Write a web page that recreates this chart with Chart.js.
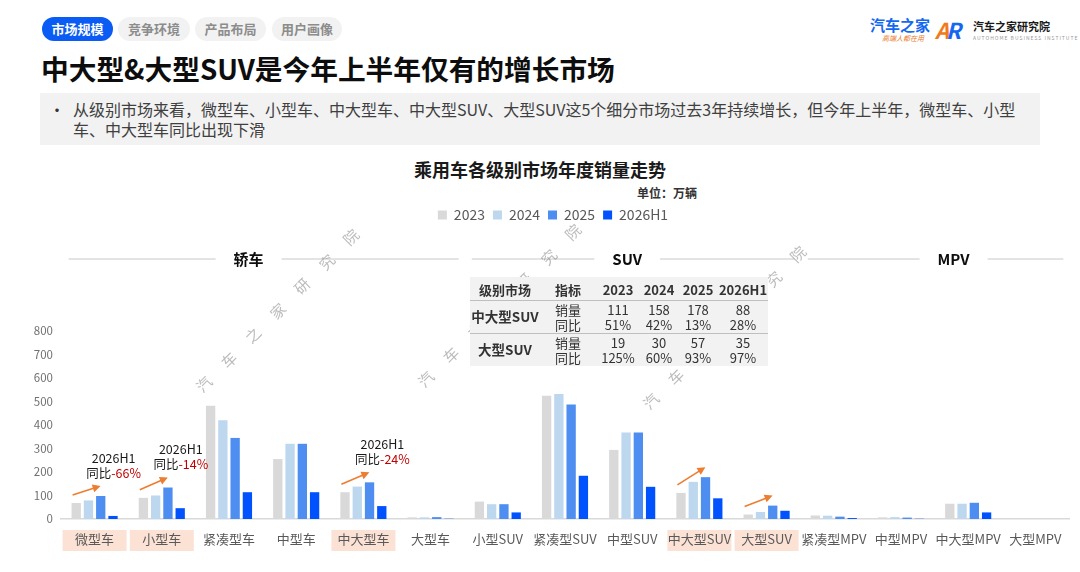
<!DOCTYPE html>
<html>
<head>
<meta charset="utf-8">
<script src="https://cdn.jsdelivr.net/npm/chart.js@4.4.1/dist/chart.umd.min.js"></script>
<style>
  body { margin: 0; width: 1080px; height: 572px; background: #fff; position: relative; overflow: hidden;
         font-family: "Noto Sans CJK SC", "Noto Sans", sans-serif; color: #262626; }
  .tab { position: absolute; top: 17px; height: 24px; line-height: 24px; border-radius: 12px; font-size: 13px;
         font-weight: bold; text-align: center; background: #f2f2f2; color: #8c8c8c; }
  .tab.on { background: #0a5cf5; color: #fff; }
  #title { position: absolute; left: 41px; top: 49px; font-size: 27.7px; font-weight: bold; color: #0d0d0d; line-height: 38px; }
  #note { position: absolute; left: 40px; top: 93px; width: 1000px; height: 52px; background: #f2f2f2; }
  #note .dot { position: absolute; left: 9px; top: 6px; font-size: 16px; line-height: 20px; color: #333; }
  #note .txt { position: absolute; left: 33px; top: 6px; font-size: 16px; line-height: 20px; color: #404040; white-space: nowrap; }
  #ctitle { position: absolute; left: 0; width: 1080px; top: 156px; text-align: center; font-size: 18px; font-weight: bold; color: #1a1a1a; }
  #unit { position: absolute; right: 383px; top: 184px; font-size: 12px; font-weight: bold; color: #333; }
  #wrap { position: absolute; left: 0; top: 200px; width: 1080px; height: 372px; z-index: 1; }
  .wm { position: absolute; font-size: 15px; color: rgba(120,120,120,0.5); transform: rotate(-45deg); z-index: 2; }
  #tbl { position: absolute; left: 470px; top: 277px; width: 298px; height: 89px; background: #f2f2f2; z-index: 3; font-size: 13px; color: #333; }
  #tbl div { position: absolute; text-align: center; line-height: 15px; }
  .logo1 { position: absolute; left: 870px; top: 14px; font-size: 15px; font-weight: bold; color: #1467f0; }
  .logo1s { position: absolute; left: 882px; top: 33px; font-size: 7px; color: #e87722; font-style: italic; }
  .logo2 { position: absolute; left: 935px; top: 13px; font-size: 22px; font-weight: bold; font-style: italic; letter-spacing: -3px; }
  .logo3 { position: absolute; left: 973px; top: 18px; font-size: 11px; font-weight: bold; color: #1a1a1a; }
  .logo3s { position: absolute; left: 973px; top: 34px; font-size: 5px; color: #999; letter-spacing: 1px; }
</style>
</head>
<body>
<div class="tab on" style="left:42px;width:71px;">市场规模</div>
<div class="tab" style="left:118px;width:72px;">竞争环境</div>
<div class="tab" style="left:195px;width:71px;">产品布局</div>
<div class="tab" style="left:272px;width:70px;">用户画像</div>
<div class="logo1">汽车之家</div>
<div class="logo1s">高端人都在用</div>
<div class="logo2"><span style="color:#f07a1c">A</span><span style="color:#1467f0">R</span></div>
<div class="logo3">汽车之家研究院</div>
<div class="logo3s">AUTOHOME BUSINESS INSTITUTE</div>
<div id="title">中大型&amp;大型SUV是今年上半年仅有的增长市场</div>
<div id="note"><span class="dot">•</span><span class="txt">从级别市场来看，微型车、小型车、中大型车、中大型SUV、大型SUV这5个细分市场过去3年持续增长，但今年上半年，微型车、小型<br>车、中大型车同比出现下滑</span></div>
<div id="ctitle">乘用车各级别市场年度销量走势</div>
<div id="unit">单位：万辆</div>
<div id="wrap"><canvas id="grafico"></canvas></div>
<div id="tbl"></div>

<script>
// 数据
const categorias = ['微型车', '小型车', '紧凑型车', '中型车', '中大型车', '大型车',
  '小型SUV', '紧凑型SUV', '中型SUV', '中大型SUV', '大型SUV',
  '紧凑型MPV', '中型MPV', '中大型MPV', '大型MPV'];
const anos = ['2023', '2024', '2025', '2026H1'];
const vendas2023 = [68, 90, 482, 255, 114, 7, 74, 524, 294, 111, 19, 15, 7, 65, 0];
const vendas2024 = [79, 100, 420, 320, 138, 7, 63, 532, 368, 158, 30, 14, 8, 65, 0];
const vendas2025 = [98, 134, 345, 320, 156, 8, 63, 487, 368, 178, 57, 10, 6, 69, 0];
const vendas2026H1 = [13, 46, 114, 114, 55, 1, 28, 184, 137, 88, 35, 4, 1, 28, 0];
const cores = ['#d9d9d9', '#bdd7ee', '#4d8ef0', '#0052ff'];

const destacados = ['微型车', '小型车', '中大型车', '中大型SUV', '大型SUV'];
const setas = ['微型车', '小型车', '中大型车', '中大型SUV', '大型SUV'];
const notaCategorias = ['微型车', '小型车', '中大型车'];
const notaYoy = ['-66%', '-14%', '-24%'];

const grupos = ['轿车', 'SUV', 'MPV'];
const grupoInicio = [0, 6, 11];
const grupoFim = [5, 10, 14];

const tabelaCabecalho = ['级别市场', '指标', '2023', '2024', '2025', '2026H1'];
const tabelaMercados = ['中大型SUV', '大型SUV'];
const tabelaVendas = [[111, 158, 178, 88], [19, 30, 57, 35]];
const tabelaYoy = [['51%', '42%', '13%', '28%'], ['125%', '60%', '93%', '97%']];

// tabela
const tbl = document.getElementById('tbl');
const colX = [0, 70, 126, 170, 208, 248, 298];
function celula(txt, c, top, h, bold, size) {
  const d = document.createElement('div');
  d.style.left = colX[c] + 'px';
  d.style.width = (colX[c + 1] - colX[c]) + 'px';
  d.style.top = top + 'px';
  d.style.height = h + 'px';
  if (bold) d.style.fontWeight = 'bold';
  if (size) d.style.fontSize = size + 'px';
  d.innerHTML = txt;
  tbl.appendChild(d);
}
tabelaCabecalho.forEach((t, c) => celula(t, c, 5, 15, true, 13));
const linhaTop = [25, 58];
tabelaMercados.forEach((m, r) => {
  celula(m, 0, linhaTop[r] + 7, 15, true, 13.5);
  celula('销量<br>同比', 1, linhaTop[r], 30);
  for (let k = 0; k < 4; k++) {
    celula(tabelaVendas[r][k] + '<br>' + tabelaYoy[r][k], k + 2, linhaTop[r], 30);
  }
});
[23, 56].forEach(y => {
  const l = document.createElement('div');
  l.style.cssText = 'left:0;width:298px;top:' + y + 'px;height:1px;background:#bfbfbf;';
  tbl.appendChild(l);
});

// marca d'agua
const wmTexto = '汽车之家研究院';
[[203, 383], [425, 378], [650, 400]].forEach(p => {
  for (let i = 0; i < wmTexto.length; i++) {
    const s = document.createElement('span');
    s.className = 'wm';
    s.textContent = wmTexto[i];
    s.style.left = (p[0] + i * 24.5 - 7) + 'px';
    s.style.top = (p[1] - i * 24.5 - 10) + 'px';
    document.body.appendChild(s);
  }
});

const deslocTexto = [-15, -6, 18];
const extras = {
  id: 'extras',
  beforeInit(chart) {
    const fit = chart.legend.fit;
    chart.legend.fit = function () {
      fit.bind(chart.legend)();
      this.height += 99;
    };
    const draw = chart.legend.draw;
    chart.legend.draw = function () {
      chart.ctx.save();
      chart.ctx.translate(16, 0);
      draw.bind(chart.legend)();
      chart.ctx.restore();
    };
  },
  beforeDraw(chart) {
    const ctx = chart.ctx;
    const x = chart.scales.x;
    const area = chart.chartArea;
    ctx.save();
    ctx.fillStyle = '#fbe2d5';
    destacados.forEach(c => {
      const cx = x.getPixelForValue(categorias.indexOf(c));
      ctx.fillRect(cx - 32, area.bottom + 11, 64, 21);
    });
    // grupos
    ctx.font = 'bold 15px "Noto Sans CJK SC"';
    ctx.textAlign = 'center';
    ctx.textBaseline = 'middle';
    const y = 59;
    grupos.forEach((g, i) => {
      const l = x.getPixelForValue(grupoInicio[i]) - 26;
      const r = x.getPixelForValue(grupoFim[i]) + 28;
      const m = (l + r) / 2 + deslocTexto[i];
      const w = ctx.measureText(g).width / 2 + 18;
      ctx.strokeStyle = '#c8c8c8';
      ctx.lineWidth = 1;
      ctx.beginPath();
      ctx.moveTo(l, y); ctx.lineTo(m - w, y);
      ctx.moveTo(m + w, y); ctx.lineTo(r, y);
      ctx.stroke();
      ctx.fillStyle = '#0d0d0d';
      ctx.fillText(g, m, y);
    });
    ctx.restore();
  },
  afterDatasetsDraw(chart) {
    const ctx = chart.ctx;
    const x = chart.scales.x;
    const yS = chart.scales.y;
    ctx.save();
    setas.forEach(c => {
      const i = categorias.indexOf(c);
      const cx = x.getPixelForValue(i);
      const x0 = cx - 22, y0 = yS.getPixelForValue(vendas2023[i]) - 8;
      const x1 = cx + 6, y1 = yS.getPixelForValue(vendas2025[i]) - 10;
      const ang = Math.atan2(y1 - y0, x1 - x0);
      ctx.strokeStyle = '#ed7d31';
      ctx.fillStyle = '#ed7d31';
      ctx.lineWidth = 1.6;
      ctx.beginPath();
      ctx.moveTo(x0, y0);
      ctx.lineTo(x1 - 5 * Math.cos(ang), y1 - 5 * Math.sin(ang));
      ctx.stroke();
      ctx.beginPath();
      ctx.moveTo(x1, y1);
      ctx.lineTo(x1 - 8 * Math.cos(ang) + 4 * Math.sin(ang), y1 - 8 * Math.sin(ang) - 4 * Math.cos(ang));
      ctx.lineTo(x1 - 8 * Math.cos(ang) - 4 * Math.sin(ang), y1 - 8 * Math.sin(ang) + 4 * Math.cos(ang));
      ctx.closePath();
      ctx.fill();
    });
    ctx.font = '12.5px "Noto Sans CJK SC"';
    ctx.textBaseline = 'middle';
    notaCategorias.forEach((c, k) => {
      const i = categorias.indexOf(c);
      const tx = x.getPixelForValue(i) + 19;
      const ty = yS.getPixelForValue(vendas2025[i]) - 9;
      ctx.textAlign = 'center';
      ctx.fillStyle = '#1a1a1a';
      ctx.fillText('2026H1', tx, ty - 29);
      const a = '同比', b = notaYoy[k];
      const wa = ctx.measureText(a).width, wb = ctx.measureText(b).width;
      const sx = tx - (wa + wb) / 2;
      ctx.textAlign = 'left';
      ctx.fillText(a, sx, ty - 14);
      ctx.fillStyle = '#c00000';
      ctx.fillText(b, sx + wa, ty - 14);
    });
    ctx.restore();
  }
};

const conjuntos = [vendas2023, vendas2024, vendas2025, vendas2026H1];
const grafico = new Chart(document.getElementById('grafico'), {
  type: 'bar',
  data: {
    labels: categorias,
    datasets: conjuntos.map((d, k) => ({
      label: anos[k],
      data: d,
      backgroundColor: cores[k],
      categoryPercentage: 0.73,
      barPercentage: 0.76
    }))
  },
  options: {
    responsive: true,
    maintainAspectRatio: false,
    animation: false,
    layout: { padding: { left: 5, right: 11, top: 0, bottom: 13 } },
    plugins: {
      legend: {
        position: 'top',
        labels: {
          boxWidth: 9, boxHeight: 9, padding: 8,
          color: '#595959',
          font: { size: 14, family: '"Noto Sans CJK SC"' }
        }
      },
      tooltip: { enabled: false }
    },
    scales: {
      x: {
        grid: { display: false },
        border: { color: '#d9d9d9', width: 1.5 },
        ticks: { autoSkip: false, maxRotation: 0, padding: 4, color: '#595959',
                 font: { size: 13, family: '"Noto Sans CJK SC"' } },
        afterFit(s) { s.height = 40; }
      },
      y: {
        min: 0, max: 800,
        grid: { display: false },
        border: { display: false },
        ticks: { stepSize: 100, padding: 0, color: '#707070',
                 font: { size: 11.5, family: '"Noto Sans CJK SC"' } },
        afterFit(s) { s.width = 56; }
      }
    }
  },
  plugins: [extras]
});
</script>
</body>
</html>
